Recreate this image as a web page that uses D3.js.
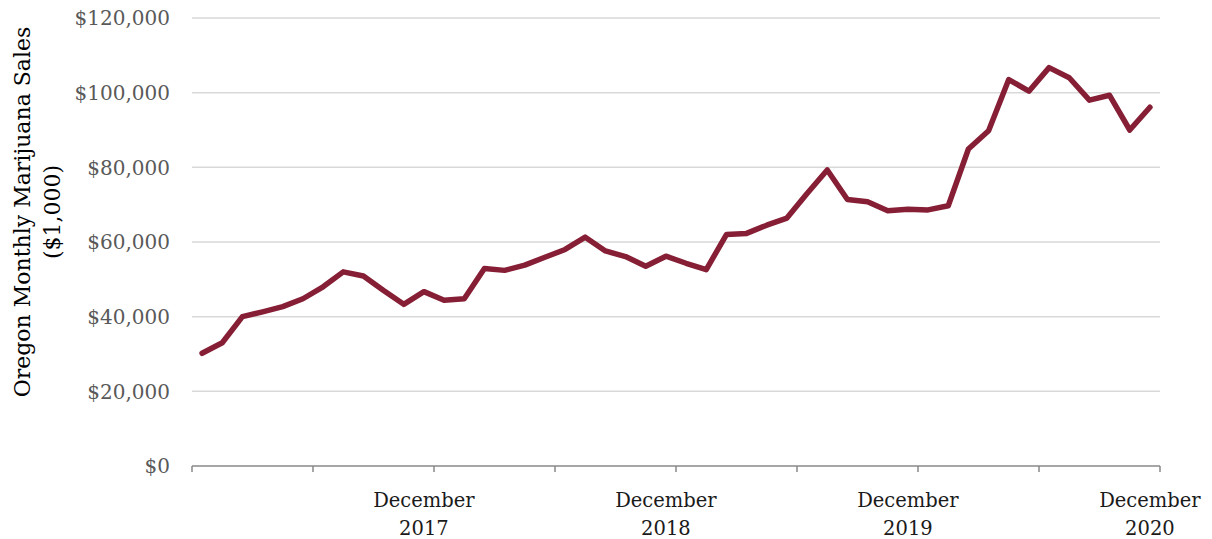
<!DOCTYPE html>
<html>
<head>
<meta charset="utf-8">
<script src="https://cdn.jsdelivr.net/npm/d3@7"></script>
<style>
  html, body { margin: 0; padding: 0; background: #fff; }
  svg { display: block; }
</style>
</head>
<body>
<svg id="chart" width="1212" height="539"></svg>
<script>
// ---- Data (monthly, Jan 2017 – Dec 2020), values in $1,000 ----
const months = [];
const monthNames = ["January","February","March","April","May","June","July","August","September","October","November","December"];
const years = [2017, 2018, 2019, 2020];
years.forEach(yy => monthNames.forEach(m => months.push(m + " " + yy)));

const sales = [
  30200, 33000, 40000, 41300, 42700, 44800, 48000, 52000, 50900, 47000, 43300, 46700,
  44400, 44800, 52900, 52400, 53800, 55900, 58000, 61300, 57600, 56100, 53500, 56200,
  54300, 52600, 62000, 62300, 64500, 66400, 73000, 79300, 71400, 70800, 68400, 68800,
  68600, 69700, 84900, 89800, 103500, 100400, 106700, 104000, 98000, 99300, 90000, 96100
];

const yTicks = [0, 20000, 40000, 60000, 80000, 100000, 120000];
const xLabelMonths = ["December 2017", "December 2018", "December 2019", "December 2020"];
const yTitle = ["Oregon Monthly Marijuana Sales", "($1,000)"];

// ---- Layout ----
const svg = d3.select("#chart");
const mLeft = 192, mRight = 1160, mTop = 18, mBottom = 466;

const x = d3.scaleBand().domain(months).range([mLeft, mRight]).padding(0);
const y = d3.scaleLinear().domain([0, 120000]).range([mBottom, mTop]);

const serif = "'DejaVu Serif', 'Liberation Serif', serif";

// gridlines
svg.append("g")
  .selectAll("line")
  .data(yTicks.filter(d => d > 0))
  .join("line")
  .attr("x1", mLeft).attr("x2", mRight)
  .attr("y1", d => y(d)).attr("y2", d => y(d))
  .attr("stroke", "#d9d9d9").attr("stroke-width", 1.5);

// y tick labels
svg.append("g")
  .selectAll("text")
  .data(yTicks)
  .join("text")
  .attr("x", 170)
  .attr("y", d => y(d))
  .attr("dy", "0.36em")
  .attr("text-anchor", "end")
  .attr("font-family", serif)
  .attr("font-size", 20)
  .attr("fill", "#595959")
  .text(d => "$" + d3.format(",")(d));

// x axis line and ticks (every 6 months)
const axisG = svg.append("g");
axisG.append("line")
  .attr("x1", mLeft).attr("x2", mRight)
  .attr("y1", mBottom).attr("y2", mBottom)
  .attr("stroke", "#898989").attr("stroke-width", 1.5);
const tickIdx = d3.range(0, months.length + 1, 6);
axisG.selectAll("line.tick")
  .data(tickIdx)
  .join("line")
  .attr("class", "tick")
  .attr("x1", i => i < months.length ? x(months[i]) : mRight)
  .attr("x2", i => i < months.length ? x(months[i]) : mRight)
  .attr("y1", mBottom).attr("y2", mBottom + 6)
  .attr("stroke", "#898989").attr("stroke-width", 1.5);

// x labels
const xl = svg.append("g")
  .selectAll("text")
  .data(xLabelMonths)
  .join("text")
  .attr("text-anchor", "middle")
  .attr("font-family", serif)
  .attr("font-size", 19.5)
  .attr("fill", "#1a1a1a");
xl.each(function(d) {
  const cx = x(d) + x.bandwidth() / 2;
  const parts = d.split(" ");
  const t = d3.select(this);
  t.append("tspan").attr("x", cx).attr("y", 507).text(parts[0]);
  t.append("tspan").attr("x", cx).attr("y", 535).text(parts[1]);
});

// y title
const yt = svg.append("text")
  .attr("transform", "translate(0,212) rotate(-90)")
  .attr("text-anchor", "middle")
  .attr("font-family", serif)
  .attr("font-size", 22)
  .attr("fill", "#000");
yt.append("tspan").attr("x", 0).attr("y", 30).text(yTitle[0]);
yt.append("tspan").attr("x", 0).attr("y", 60).text(yTitle[1]);

// line
const line = d3.line()
  .x((d, i) => x(months[i]) + x.bandwidth() / 2)
  .y(d => y(d));
svg.append("path")
  .datum(sales)
  .attr("d", line)
  .attr("fill", "none")
  .attr("stroke", "#861F35")
  .attr("stroke-width", 5.5)
  .attr("stroke-linejoin", "round")
  .attr("stroke-linecap", "round");
</script>
</body>
</html>
